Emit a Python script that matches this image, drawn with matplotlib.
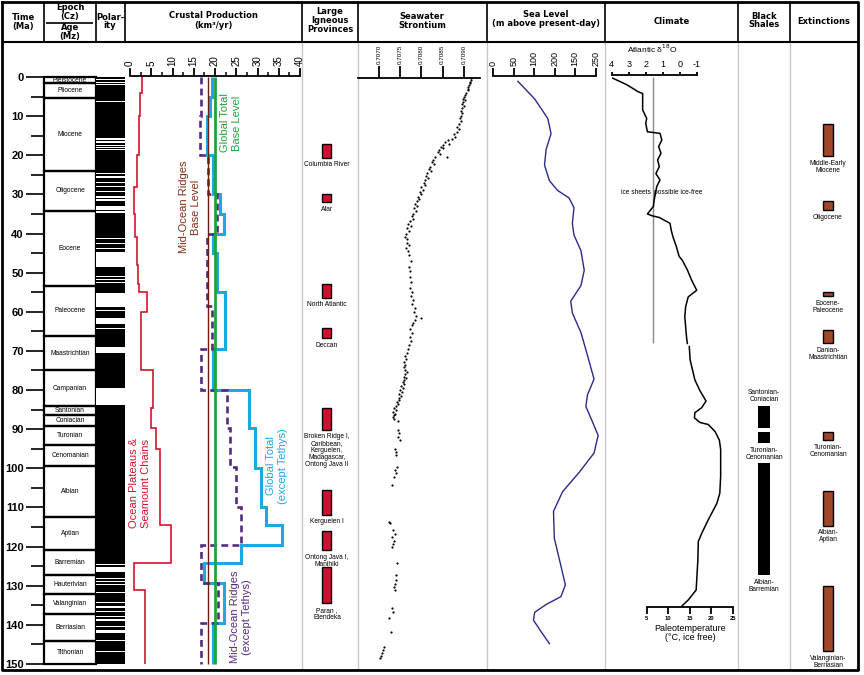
import numpy as np
import matplotlib
matplotlib.use("Agg")
import matplotlib.pyplot as plt

plt.rcParams['font.family'] = ['Liberation Sans', 'DejaVu Sans']

# ---------------- data ----------------
stage_names = ['Pleistocene', 'Pliocene', 'Miocene', 'Oligocene', 'Eocene', 'Paleocene',
               'Maastrichtian', 'Campanian', 'Santonian', 'Coniacian', 'Turonian',
               'Cenomanian', 'Albian', 'Aptian', 'Barremian', 'Hauterivian',
               'Valanginian', 'Berriasian', 'Tithonian']
stage_bounds = [0, 1.6, 5.4, 24.0, 34.2, 53.3, 66.2, 75.0, 84.0, 86.3, 89.3, 94.0,
                99.5, 112.5, 121.0, 127.2, 132.1, 137.2, 144.2, 150.0]

# reversed polarity intervals (white), Ma
rev_start = [0.4, 1.3, 1.9, 4.5, 6.2, 15.6, 16.4, 17.5, 18.0, 18.5, 21.1, 24.5, 25.4,
             26.9, 27.9, 29.2, 30.3, 31.3, 33.0, 34.3, 41.1, 42.4, 43.7, 44.6, 50.8,
             51.6, 52.3, 55.3, 59.6, 61.7, 64.1, 69.1, 79.4,
             124.5, 125.3, 128.0, 128.8, 129.6, 131.6, 134.2, 135.3, 136.5, 137.8,
             138.6, 140.3, 141.3, 144.0, 144.8, 145.8, 146.8]
rev_end = [0.7, 1.5, 2.1, 4.7, 6.4, 16.0, 16.9, 17.7, 18.2, 18.7, 21.3, 24.8, 25.7,
           27.2, 28.2, 29.5, 30.8, 31.6, 34.0, 34.8, 41.5, 42.8, 44.0, 48.5, 51.2,
           51.9, 52.6, 58.7, 59.9, 63.0, 64.4, 70.6, 83.8,
           124.7, 126.6, 128.2, 129.0, 129.85, 131.8, 134.4, 135.6, 136.7, 138.1,
           138.9, 140.6, 142.1, 144.2, 145.0, 146.0, 147.0]

# crustal production (km3/yr): step edges (Ma) and values
red_edges = [0, 4, 10, 20, 28, 35, 41, 48, 53, 55, 60, 75, 84.7, 89.8, 95, 114.6, 124.3, 131, 150]
red_vals = [2.8, 2.4, 2.0, 1.6, 0.9, 1.2, 1.6, 1.8, 2.2, 4.0, 2.7, 5.3, 4.9, 6.1, 7.0, 9.6, 0.9, 3.5]
blue_edges = [0, 5, 10, 20, 30, 35, 40, 45, 55, 69.4, 80, 89.8, 100, 110, 114.6, 119.6, 124.3,
              129.4, 139.6, 150]
blue_vals = [19.2, 18.8, 18.0, 19.6, 21.2, 22.0, 19.6, 20.4, 22.4, 19.6, 28.1, 29.4, 30.8, 32.0,
             35.8, 26.0, 17.3, 22.1, 19.6]
purple_edges = [0, 10, 20, 30, 40, 58.5, 69.5, 80, 89.8, 99.6, 109.9, 119.6, 129.4, 139.6, 150]
purple_vals = [16.7, 16.4, 18.4, 20.4, 18.2, 19.4, 16.7, 22.9, 23.5, 25.0, 26.0, 16.7, 20.6, 16.7]
global_base = 20.0
ridge_base = 18.4

# large igneous provinces
lip_names = ['Columbia River', 'Afar', 'North Atlantic', 'Deccan',
             'Broken Ridge I,\nCaribbean,\nKerguelen,\nMadagascar,\nOntong Java II',
             'Kerguelen I', 'Ontong Java I,\nManihiki', 'Paran ,\nEtendeka']
lip_top = [17.0, 30.0, 53.0, 64.2, 84.5, 105.5, 116.0, 125.1]
lip_base = [20.6, 32.0, 56.4, 66.8, 90.2, 111.9, 120.9, 134.5]

# seawater 87Sr/86Sr
sr_age = [0.3, 0.8, 1.2, 1.6, 2.0, 2.5, 3.0, 3.4, 4.0, 4.5, 5.0, 5.5, 6.0, 6.5, 7.0, 7.5, 8.0,
          8.7, 9.3, 10.0, 10.6, 11.2, 12.0, 12.7, 13.3, 14.0, 14.6, 15.3, 15.8, 16.2, 16.6,
          17.0, 17.4, 17.8, 18.2, 18.7, 19.2, 19.6, 20.4, 20.5, 21.2, 21.8, 22.3, 22.9, 23.5,
          24.0, 24.6, 25.2, 25.8, 26.3, 27.0, 27.6, 28.2, 28.8, 29.4, 30.0, 30.6, 31.2, 31.8,
          32.4, 33.0, 33.6, 34.2, 34.9, 35.5, 36.2, 36.8, 37.5, 38.0, 38.7, 39.4, 40.0, 40.8,
          41.5, 42.3, 43.0, 43.8, 44.5, 45.5, 47.0, 48.5, 49.5, 51.0, 52.5, 54.0, 55.0, 56.0,
          57.0, 58.0, 59.0, 60.0, 61.0, 61.5, 62.0, 62.8, 63.5, 64.5, 65.5, 66.5, 67.5, 68.5,
          69.5, 70.5, 71.2, 72.0, 72.8, 73.5, 74.2, 74.8, 75.5, 76.0, 76.6, 77.0, 77.5, 78.0,
          78.5, 79.0, 79.5, 80.0, 80.5, 81.0, 81.5, 82.0, 82.5, 83.0, 83.5, 84.0, 84.5, 85.0,
          85.5, 86.0, 86.5, 87.0, 87.5, 88.0, 90.2, 91.0, 92.0, 92.8, 95.0, 95.8, 96.6, 99.6,
          100.5, 101.3, 102.1, 104.3, 113.6, 114.0, 115.8, 116.7, 117.5, 118.5, 119.3, 120.0,
          124.3, 127.3, 128.5, 129.5, 130.3, 131.1, 135.8, 136.8, 138.3, 141.8, 145.6, 146.5,
          147.3, 148.0, 148.6]
sr_ratio = [0.70918, 0.70916, 0.70914, 0.70915, 0.70912, 0.70910, 0.70909, 0.70911, 0.70906,
            0.70904, 0.70900, 0.70897, 0.70902, 0.70899, 0.70896, 0.70900, 0.70895, 0.70893,
            0.70896, 0.70893, 0.70890, 0.70894, 0.70888, 0.70885, 0.70889, 0.70883, 0.70878,
            0.70880, 0.70872, 0.70862, 0.70856, 0.70866, 0.70850, 0.70846, 0.70852, 0.70842,
            0.70839, 0.70843, 0.70860, 0.70832, 0.70828, 0.70824, 0.70829, 0.70820, 0.70818,
            0.70822, 0.70814, 0.70810, 0.70815, 0.70808, 0.70805, 0.70809, 0.70800, 0.70803,
            0.70797, 0.70799, 0.70792, 0.70795, 0.70790, 0.70786, 0.70790, 0.70783, 0.70787,
            0.70780, 0.70777, 0.70781, 0.70772, 0.70768, 0.70775, 0.70765, 0.70770, 0.70764,
            0.70762, 0.70767, 0.70765, 0.70770, 0.70763, 0.70768, 0.70771, 0.70776, 0.70770,
            0.70773, 0.70772, 0.70775, 0.70773, 0.70778, 0.70776, 0.70780, 0.70778, 0.70786,
            0.70782, 0.70788, 0.70800, 0.70784, 0.70780, 0.70778, 0.70774, 0.70777, 0.70773,
            0.70775, 0.70771, 0.70768, 0.70765, 0.70762, 0.70764, 0.70760, 0.70762, 0.70758,
            0.70761, 0.70766, 0.70762, 0.70760, 0.70764, 0.70758, 0.70756, 0.70760, 0.70753,
            0.70756, 0.70750, 0.70754, 0.70748, 0.70751, 0.70746, 0.70748, 0.70742, 0.70745,
            0.70740, 0.70736, 0.70741, 0.70734, 0.70738, 0.70735, 0.70732, 0.70736, 0.70745,
            0.70744, 0.70748, 0.70745, 0.70750, 0.70738, 0.70741, 0.70739, 0.70742, 0.70738,
            0.70740, 0.70735, 0.70730, 0.70724, 0.70726, 0.70732, 0.70738, 0.70730, 0.70736,
            0.70733, 0.70731, 0.70742, 0.70740, 0.70741, 0.70737, 0.70735, 0.70738, 0.70730,
            0.70733, 0.70723, 0.70728, 0.70712, 0.70710, 0.70707, 0.70704, 0.70702]

# sea level (m above present-day)
sl_age = [1.1, 5.6, 10.6, 14.5, 18.5, 22.5, 26.5, 29.0, 30.9, 33.4, 37.4, 40.4, 44.4, 49.4,
          53.3, 57.3, 60.3, 65.3, 71.2, 77.2, 81.2, 84.2, 88.1, 91.6, 96.1, 101.0, 106.0,
          111.0, 117.9, 124.9, 129.8, 132.8, 134.8, 136.8, 138.8, 141.8, 144.8]
sl_m = [60, 101, 133, 141, 129, 125, 137, 157, 185, 197, 193, 197, 214, 222, 214, 189, 193,
        214, 230, 246, 230, 226, 242, 256, 246, 210, 169, 147, 149, 165, 176, 165, 129, 101,
        98, 117, 137]

# climate: Atlantic d18O (per mil) and ice-free paleotemperature (deg C)
d18o_age = [0.3, 2.0, 3.8, 4.2, 8.4, 10.6, 11.8, 14.0, 14.4, 16.1, 17.8, 19.5, 21.2, 22.9,
            24.7, 26.3, 28.0, 31.4, 33.1, 35.0, 35.5, 35.9, 37.4, 39.1, 40.8, 43.3, 45.9,
            46.8, 49.3, 51.9, 54.5, 56.2, 58.7, 61.3, 63.8, 66.4, 68.1]
d18o_val = [3.94, 3.1, 2.43, 2.18, 2.18, 1.94, 2.0, 1.9, 1.16, 1.05, 1.24, 1.1, 1.3, 1.2,
            1.4, 1.16, 1.35, 1.5, 1.55, 1.9, 1.6, 1.2, 0.57, 0.5, 0.4, 0.2, 0.03, -0.15,
            -0.45, -0.7, -1.0, -0.5, -0.35, -0.3, -0.35, -0.4, -0.45]
temp_age = [68.9, 72.3, 77.4, 80.2, 82.8, 84.5, 85.8, 87.1, 88.3, 88.8, 90.6, 92.8, 95.2,
            102.0, 106.4, 109.0, 113.2, 116.6, 118.7, 123.4, 131.1, 133.6, 135.3]
temp_val = [14.9, 15.1, 16.2, 17.4, 18.8, 17.8, 16.2, 16.1, 17.4, 19.3, 20.9, 21.9, 22.2,
            22.2, 22.0, 21.3, 19.3, 17.8, 17.0, 16.9, 16.5, 14.7, 13.1]
ice_d18o = 1.6
ice_ages = (0, 68)

# black shales and extinctions
shale_top = [84.2, 90.6, 98.6]
shale_base = [89.6, 93.6, 127.3]
shale_labels = ['Santonian-\nConiacian', 'Turonian-\nCenomanian', 'Albian-\nBarremian']
ext_names = ['Middle-Early\nMiocene', 'Oligocene', 'Eocene-\nPaleocene', 'Danian-\nMaastrichtian',
             'Turonian-\nCenomanian', 'Albian-\nAptian', 'Valanginian-\nBerriasian']
ext_top = [12.0, 31.7, 55.0, 64.7, 90.7, 105.8, 130.0]
ext_base = [20.3, 34.0, 56.0, 68.0, 92.8, 114.7, 146.7]

# ---------------- layout ----------------
W, H = 864, 675
Y0, PX_MA = 77.0, 3.913       # pixel row of 0 Ma, pixels per Ma
Y_TOP, Y_BOT = 42, 670
t_lim = ((Y_BOT - Y0) / PX_MA, (Y_TOP - Y0) / PX_MA)


def t_of(y):
    return (y - Y0) / PX_MA


fig = plt.figure(figsize=(W / 100, H / 100), dpi=100)
bg = fig.add_axes([0, 0, 1, 1])
bg.set_xlim(0, W)
bg.set_ylim(H, 0)
bg.axis('off')


def panel(x0, x1, xlim=(0, 1)):
    ax = fig.add_axes([x0 / W, 1 - Y_BOT / H, (x1 - x0) / W, (Y_BOT - Y_TOP) / H])
    ax.set_ylim(*t_lim)
    ax.set_xlim(*xlim)
    ax.patch.set_alpha(0)
    for s in ax.spines.values():
        s.set_visible(False)
    ax.set_xticks([])
    ax.set_yticks([])
    return ax


def top_axis(ax, y, lo, hi, ticks, labels, rot, size, length, minor=None):
    sp = ax.spines['top']
    sp.set_visible(True)
    sp.set_position(('data', t_of(y)))
    sp.set_bounds(lo, hi)
    sp.set_linewidth(1.3)
    ax.xaxis.set_ticks_position('top')
    ax.set_xticks(ticks)
    ax.set_xticklabels(labels, rotation=rot, fontsize=size)
    ax.tick_params(axis='x', which='major', direction='out', length=length, width=1.3, pad=1.5)
    if minor is not None:
        ax.set_xticks(minor, minor=True)
        ax.tick_params(axis='x', which='minor', direction='out', length=length / 2, width=1.1)


# frame, header and separators
hdr_x = [44, 96, 125, 302, 358, 487, 605, 738, 790]
bg.vlines(hdr_x, 2, Y_TOP, color='black', lw=1.2)
bg.vlines(hdr_x[3:], Y_TOP, Y_BOT, color='#c8c8c8', lw=1.0)
bg.hlines(Y_TOP, 2, 858, color='black', lw=1.5)
bg.hlines(22.5, 46, 93, color='black', lw=1.2)
bg.plot([2, 858, 858, 2, 2], [2, 2, 670, 670, 2], color='black', lw=2)

header = [(23, [(17, 'Time'), (26, '(Ma)')]),
          (70, [(8, 'Epoch'), (16.5, '(Cz)')]),
          (70, [(28, 'Age'), (36.5, '(Mz)')]),
          (110, [(17, 'Polar-'), (25, 'ity')]),
          (213, [(16, 'Crustal Production'), (25, '(km³/yr)')]),
          (330, [(12, 'Large'), (20.5, 'Igneous'), (29, 'Provinces')]),
          (422, [(16.5, 'Seawater'), (25, 'Strontium')]),
          (546, [(14.5, 'Sea Level'), (23.5, '(m above present-day)')]),
          (672, [(22, 'Climate')]),
          (764, [(16.5, 'Black'), (24.5, 'Shales')]),
          (824, [(22, 'Extinctions')])]
for x, lines in header:
    for y, s in lines:
        bg.text(x, y, s, ha='center', va='center', fontsize=6.0, fontweight='bold',
                family='DejaVu Sans')

# epochs / ages with time axis
ax_ep = panel(44, 96)
mids = [(a + b) / 2 for a, b in zip(stage_bounds[:-1], stage_bounds[1:])]
ax_ep.bar(0.5, np.diff(stage_bounds), bottom=stage_bounds[:-1], width=1, fill=False,
          edgecolor='black', linewidth=1.6, clip_on=False)
for name, m in zip(stage_names, mids):
    ax_ep.text(0.5, m, name, ha='center', va='center', fontsize=4.8)
ax_ep.set_yticks(range(0, 151, 10))
ax_ep.set_yticklabels([str(v) for v in range(0, 151, 10)], fontsize=8, fontweight='bold')
ax_ep.set_yticks(range(5, 151, 10), minor=True)
ax_ep.tick_params(axis='y', which='major', length=13, width=1.2, pad=1.5)
ax_ep.tick_params(axis='y', which='minor', length=9.5, width=1.2)

# polarity
ax_pol = panel(96, 125)
ax_pol.bar(0.5, stage_bounds[-1], bottom=0, width=1, color='black')
ax_pol.bar(0.5, np.array(rev_end) - np.array(rev_start), bottom=rev_start, width=1,
           color='white')

# crustal production
ax_cp = panel(125, 302, xlim=((125 - 130) / 4.25, (302 - 130) / 4.25))
top_axis(ax_cp, 76, 0, 40, range(0, 41, 5), [str(v) for v in range(0, 41, 5)], 90, 7, 6,
         minor=np.arange(2.5, 40, 5))
ax_cp.stairs(red_vals, red_edges, orientation='horizontal', baseline=None,
             color='#d2142e', lw=1.2)
ax_cp.vlines(ridge_base, 0, 150, color='#6b1e0e', lw=1.0)
ax_cp.stairs(blue_vals, blue_edges, orientation='horizontal', baseline=None,
             color='#1ea7e6', lw=2.2)
ax_cp.stairs(purple_vals, purple_edges, orientation='horizontal', baseline=None,
             color='#552a84', lw=1.9, linestyle=(0, (2.6, 1.6)))
ax_cp.vlines(global_base, 0, 150, color='#22a33a', lw=2.0)

lbl = dict(ha='center', va='center', rotation=90, fontsize=8, linespacing=1.25)
bg.text(190, 207, 'Mid-Ocean Ridges\nBase Level', color='#7e3016', **lbl)
bg.text(231, 123, 'Global Total\nBase Level', color='#22a33a', **lbl)
bg.text(140, 483, 'Ocean Plateaus &\nSeamount Chains', color='#d2142e', **lbl)
bg.text(277, 466, 'Global Total\n(except Tethys)', color='#1ea7e6', **lbl)
bg.text(241, 617, 'Mid-Ocean Ridges\n(except Tethys)', color='#552a84', **lbl)

# large igneous provinces
ax_lip = panel(302, 358)
ax_lip.bar(0.446, np.array(lip_base) - np.array(lip_top), bottom=lip_top, width=0.16,
           color='#cc1131', edgecolor='black', linewidth=1.0)
for name, b in zip(lip_names, lip_base):
    ax_lip.text(0.446, b + 0.9, name, ha='center', va='top', fontsize=4.8, linespacing=1.0)

# seawater strontium (0.0005 per 21.2 px, 0.7070 at x=379)
SR_PX = 0.0005 / 21.2
ax_sr = panel(358, 487, xlim=(0.7070 - 21 * SR_PX, 0.7070 + 108 * SR_PX))
sr_ticks = [0.7070, 0.7075, 0.7080, 0.7085, 0.7090]
top_axis(ax_sr, 78, 0.7070 - 21 * SR_PX, 0.7070 + 101 * SR_PX, sr_ticks,
         ['%.4f' % v for v in sr_ticks], 90, 4.5, 8.5)
ax_sr.scatter(sr_ratio, sr_age, s=2.5, color='black', linewidths=0)

# sea level
ax_sl = panel(487, 605, xlim=((487 - 493.3) / 0.4096, (605 - 493.3) / 0.4096))
top_axis(ax_sl, 76, 0, 250, range(0, 251, 50), ['0', '50', '100', '200', '150', '250'],
         90, 6.5, 6)
ax_sl.plot(sl_m, sl_age, color='#2a2a8a', lw=1.0)

# climate
ax_cl = panel(605, 738, xlim=(4 + 6.7 / 17, 4 - 133 / 17 + 6.7 / 17))
ax_tp = ax_cl.twiny()
top_axis(ax_cl, 75, 4, -1, range(4, -2, -1), ['4', '3', '2', '1', '0', '-1'], 0, 6.5, 2.5)
bg.text(652, 49, 'Atlantic δ$^{18}$O', fontsize=6, ha='center', va='center')
ax_cl.vlines(ice_d18o, *ice_ages, color='#888888', lw=1.0)
ax_cl.plot(d18o_val, d18o_age, color='black', lw=1.1)
ax_cl.text(ice_d18o + 0.1, t_of(192.3), 'ice sheets', ha='right', va='center', fontsize=4.8)
ax_cl.text(ice_d18o - 0.1, t_of(192.3), 'possible ice-free', ha='left', va='center',
           fontsize=4.8)
ax_tp.set_xlim(5 - (646.7 - 605) / 4.3, 5 + (738 - 646.7) / 4.3)
ax_tp.set_ylim(*t_lim)
ax_tp.patch.set_alpha(0)
for s in ax_tp.spines.values():
    s.set_visible(False)
ax_tp.spines['bottom'].set_visible(True)
ax_tp.spines['bottom'].set_position(('data', t_of(606.7)))
ax_tp.spines['bottom'].set_bounds(5, 25)
ax_tp.spines['bottom'].set_linewidth(1.3)
ax_tp.xaxis.set_ticks_position('bottom')
ax_tp.set_xticks(range(5, 26, 5))
ax_tp.set_xticklabels([str(v) for v in range(5, 26, 5)], fontsize=4.2, fontweight='bold')
ax_tp.tick_params(axis='x', direction='out', length=5, width=1.3, pad=1.5)
ax_tp.plot(temp_val, temp_age, color='black', lw=1.1)
bg.text(690, 633, 'Paleotemperature\n(°C, ice free)', ha='center', va='center',
        fontsize=6.5, linespacing=0.95)

# black shales
ax_bs = panel(738, 790)
ax_bs.bar(0.5, np.array(shale_base) - np.array(shale_top), bottom=shale_top, width=0.23,
          color='black')
ax_bs.text(0.5, shale_top[0] - 0.8, shale_labels[0], ha='center', va='bottom',
           fontsize=4.8, linespacing=1.0)
for name, b in zip(shale_labels[1:], shale_base[1:]):
    ax_bs.text(0.5, b + 0.9, name, ha='center', va='top', fontsize=4.8, linespacing=1.0)

# extinctions
ax_ex = panel(790, 857)
ax_ex.bar(0.567, np.array(ext_base) - np.array(ext_top), bottom=ext_top, width=0.15,
          color='#a0472a', edgecolor='black', linewidth=1.0)
for name, b in zip(ext_names, ext_base):
    ax_ex.text(0.567, b + 0.9, name, ha='center', va='top', fontsize=4.8, linespacing=1.0)

fig.savefig('out.png', dpi=100)
